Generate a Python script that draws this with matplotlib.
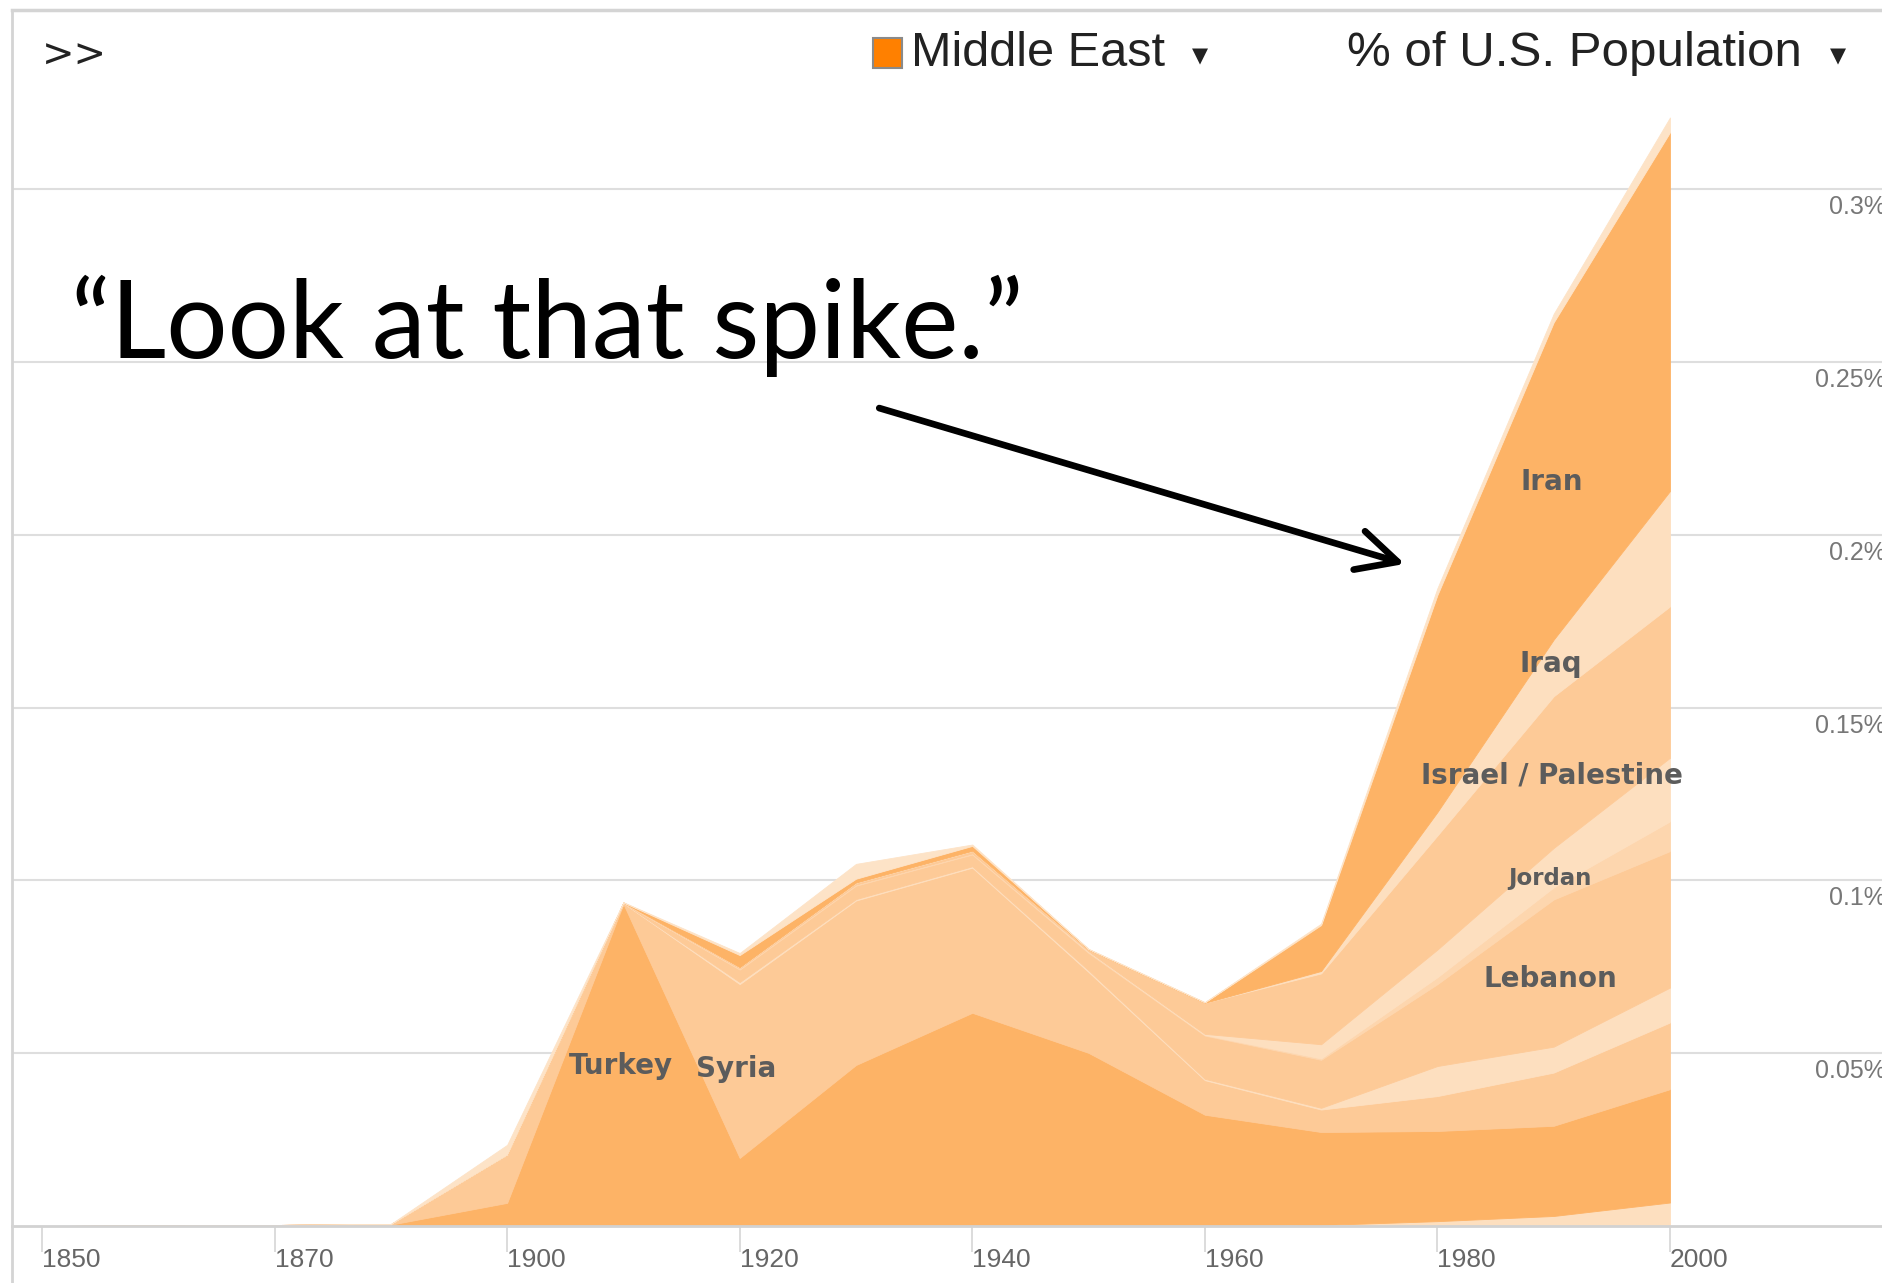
import matplotlib
matplotlib.use("Agg")
import matplotlib.pyplot as plt
from matplotlib.patches import Rectangle
from matplotlib.lines import Line2D

# decades (values in % of U.S. population), stacked bottom -> top
years = [1860, 1870, 1880, 1890, 1900, 1910, 1920, 1930, 1940, 1950, 1960, 1970, 1980, 1990, 2000]
other_bottom = [0, 0, 0, 0, 0, 0, 0, 0, 0, 0, 0, 0.0003, 0.0014, 0.0029, 0.0068]
turkey = [0, 0.0001, 0.0002, 0.0004, 0.0067, 0.0932, 0.0197, 0.0466, 0.0617, 0.0501, 0.0322, 0.0269, 0.0261, 0.0261, 0.0328]
syria = [0, 0, 0.0001, 0.0001, 0.0139, 0.0002, 0.0503, 0.0476, 0.0420, 0.0234, 0.0100, 0.0065, 0.0101, 0.0154, 0.0193]
band_a = [0, 0, 0, 0, 0, 0.0001, 0.0006, 0.0004, 0.0004, 0.0005, 0.0004, 0.0005, 0.0087, 0.0075, 0.0101]
lebanon = [0, 0, 0, 0, 0, 0, 0.0036, 0.0039, 0.0034, 0.0050, 0.0125, 0.0139, 0.0237, 0.0426, 0.0395]
band_b = [0, 0, 0, 0, 0, 0, 0.0003, 0.0003, 0.0003, 0.0003, 0.0002, 0.0004, 0.0020, 0.0035, 0.0086]
jordan = [0, 0, 0, 0, 0, 0, 0, 0, 0, 0.0002, 0.0003, 0.0041, 0.0080, 0.0114, 0.0184]
israel = [0, 0, 0, 0, 0, 0.0001, 0.0003, 0.0005, 0.0007, 0.0005, 0.0090, 0.0205, 0.0330, 0.0439, 0.0438]
iraq = [0, 0, 0, 0, 0, 0, 0.0001, 0.0001, 0.0001, 0, 0, 0.0007, 0.0068, 0.0164, 0.0334]
iran = [0, 0, 0, 0, 0, 0, 0.0035, 0.0011, 0.0014, 0.0001, 0.0001, 0.0133, 0.0628, 0.0918, 0.1038]
top_other = [0, 0, 0, 0.0001, 0.0029, 0.0001, 0.0006, 0.0043, 0.0004, 0.0001, 0.0001, 0.0004, 0.0020, 0.0025, 0.0043]

tick_years = [1860, 1880, 1900, 1920, 1940, 1960, 1980, 2000]
tick_labels = ['1850', '1870', '1900', '1920', '1940', '1960', '1980', '2000']
y_ticks = [0.05, 0.1, 0.15, 0.2, 0.25, 0.3]
y_labels = ['0.05%', '0.1%', '0.15%', '0.2%', '0.25%', '0.3%']

area_labels = ['Turkey', 'Syria', 'Iran', 'Iraq', 'Israel / Palestine', 'Jordan', 'Lebanon']

M = '#fdb366'
L = '#fdca97'
VL = '#fddfbf'

W, H = 1883, 1283
fig = plt.figure(figsize=(W / 100, H / 100), dpi=100)
ax = fig.add_axes([12 / W, 57 / H, 1871 / W, 1216 / H])

layers = [other_bottom, turkey, syria, band_a, lebanon, band_b, jordan, israel, iraq, iran, top_other]
colors = [VL, M, L, VL, L, '#fdd6ae', VL, L, VL, M, '#fde3c7']
polys = ax.stackplot(years, *layers, colors=colors, linewidth=0.6)
for p, c in zip(polys, colors):
    p.set_edgecolor(c)

ax.set_xlim(1857.42, 2018.32)
ax.set_ylim(0, 0.3519)
ax.set_axisbelow(True)
ax.set_yticks(y_ticks)
ax.yaxis.grid(True, color='#dedede', linewidth=1.5)
ax.tick_params(axis='y', length=0, labelleft=False)

ax.set_xticks(tick_years)
ax.set_xticklabels(tick_labels, ha='left', fontsize=19, color='#666666', family='Liberation Sans')
ax.tick_params(axis='x', length=19, width=1.2, color='#d6d6d6', pad=-3)

for s in ['top', 'right', 'left']:
    ax.spines[s].set_visible(False)
ax.spines['bottom'].set_color('#d2d2d2')
ax.spines['bottom'].set_linewidth(2)

for v, lab in zip(y_ticks, y_labels):
    ax.annotate(lab, xy=(1.0, v), xycoords=('axes fraction', 'data'),
                xytext=(3, -18), textcoords='offset pixels',
                ha='right', va='center', fontsize=18, color='#777777', family='Liberation Sans')

# frame lines
fig.add_artist(Line2D([12 / W, 12 / W], [0, 1 - 10 / H], color='#d4d4d4', lw=2))
fig.add_artist(Line2D([12 / W, 1], [1 - 10 / H, 1 - 10 / H], color='#d4d4d4', lw=2.5))

# header controls
fig.text(42 / W, 1 - 56 / H, '>>', fontsize=28, color='#222222', va='center', family='DejaVu Sans')
fig.add_artist(Rectangle((873 / W, 1 - 68 / H), 29 / W, 30 / H, transform=fig.transFigure,
                         facecolor='#ff8000', edgecolor='#8a8a8a', lw=1.5))
fig.text(911 / W, 1 - 53 / H, 'Middle East', fontsize=35, color='#222222', va='center', family='Liberation Sans')
fig.text(1192 / W, 1 - 56 / H, '\u25bc', fontsize=15, color='#222222', va='center', family='DejaVu Sans')
fig.text(1347 / W, 1 - 53 / H, '% of U.S. Population', fontsize=35.5, color='#222222', va='center', family='Liberation Sans')
fig.text(1830 / W, 1 - 56 / H, '\u25bc', fontsize=15, color='#222222', va='center', family='DejaVu Sans')

# country labels
label_pos = [(621, 1066, 20), (736, 1069, 20), (1552, 482, 20), (1551, 664, 20),
             (1552, 776, 20), (1550, 878, 16.5), (1550, 979, 20)]
for name, (px, py, fs) in zip(area_labels, label_pos):
    fig.text(px / W, 1 - py / H, name, fontsize=fs, fontweight='bold', color='#5c5c5c',
             ha='center', va='center', family='DejaVu Sans')

# quote and arrow
ax.text(1862.5, 0.2512, '\u201cLook at that spike.\u201d', fontsize=78, color='black',
        ha='left', va='baseline', family='Lato')
ax.annotate('', xy=(1977.2, 0.1916), xytext=(1932.0, 0.2367),
            arrowprops=dict(arrowstyle='->,head_length=0.9,head_width=0.45', lw=4.8, color='black',
                            mutation_scale=32, shrinkA=0, shrinkB=0, capstyle='round', joinstyle='round'))

fig.savefig('out.png', dpi=100)
